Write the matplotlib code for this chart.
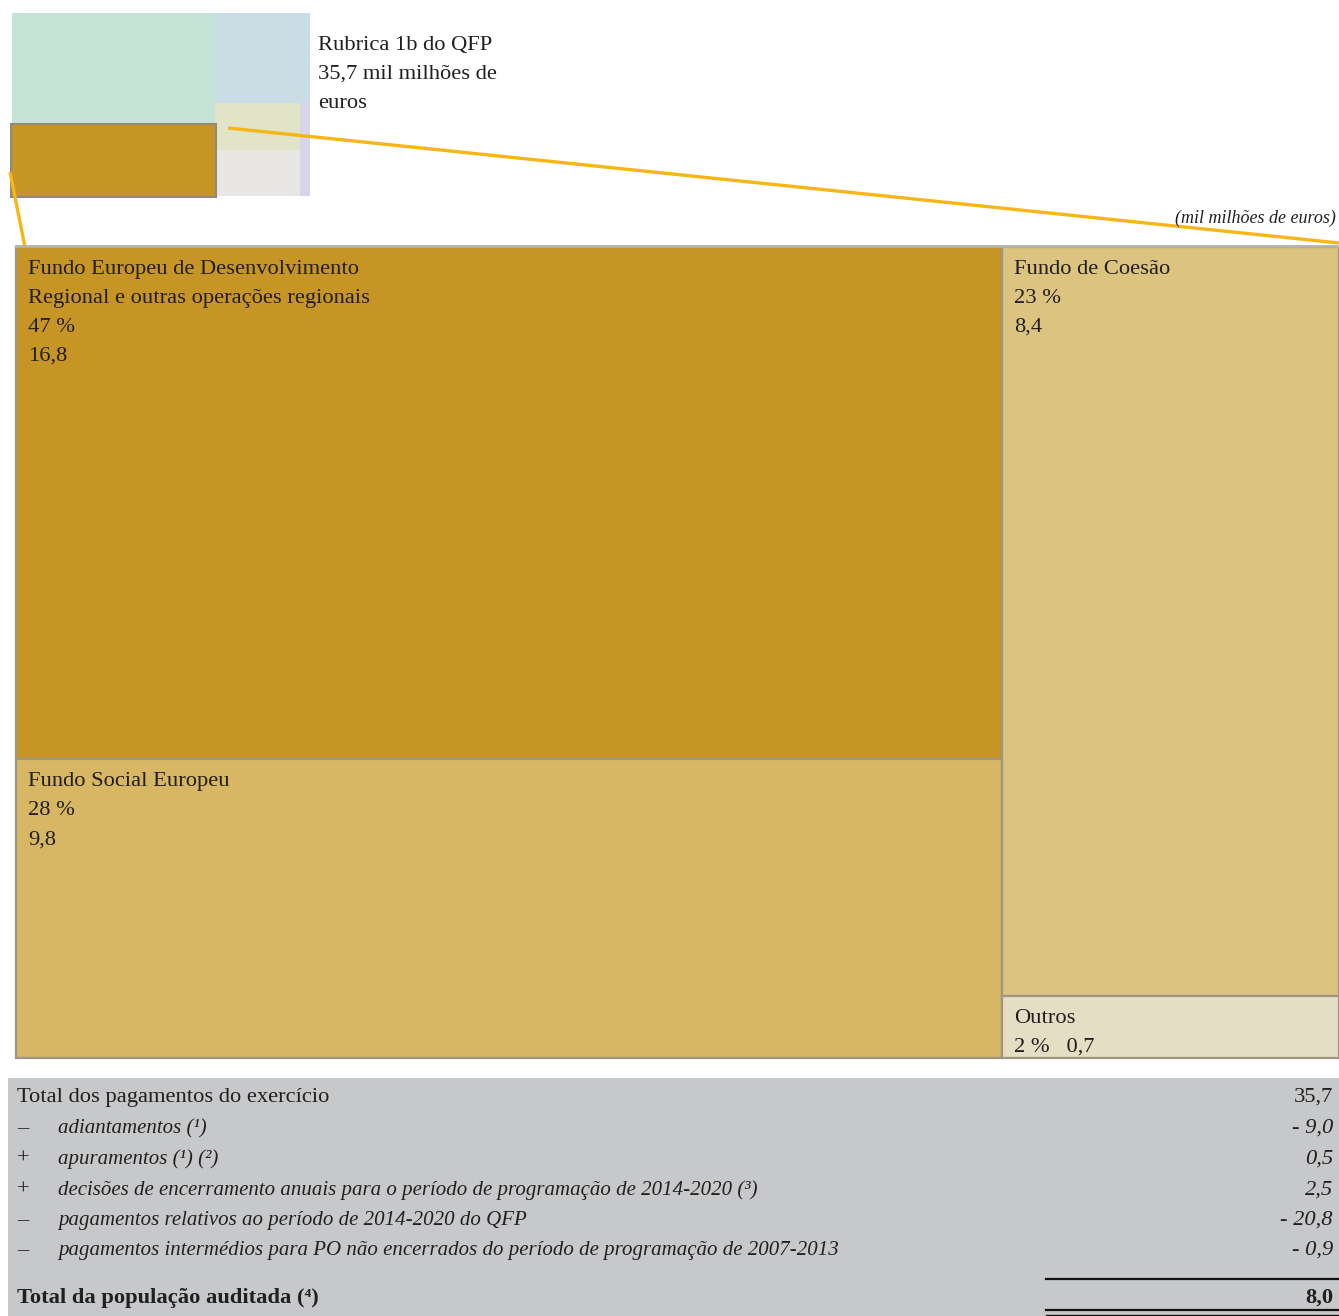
import matplotlib
matplotlib.use("Agg")
import matplotlib.pyplot as plt
from matplotlib.patches import Rectangle

# ---- data -------------------------------------------------------------
heading_title = "Rubrica 1b do QFP"
heading_total = 35.7  # mil milhões de euros

fund_names = [
    ["Fundo Europeu de Desenvolvimento", "Regional e outras operações regionais"],
    ["Fundo Social Europeu"],
    ["Fundo de Coesão"],
    ["Outros"],
]
fund_shares = [47, 28, 23, 2]          # %
fund_amounts = [16.8, 9.8, 8.4, 0.7]   # mil milhões de euros
fund_colors = ["#C79525", "#D7B763", "#DCC480", "#E5DEC5"]

recon_signs = ["", "–", "+", "+", "–", "–"]
recon_items = [
    "Total dos pagamentos do exercício",
    "adiantamentos (¹)",
    "apuramentos (¹) (²)",
    "decisões de encerramento anuais para o período de programação de 2014-2020 (³)",
    "pagamentos relativos ao período de 2014-2020 do QFP",
    "pagamentos intermédios para PO não encerrados do período de programação de 2007-2013",
]
recon_values = [35.7, -9.0, 0.5, 2.5, -20.8, -0.9]
audited_label = "Total da população auditada (⁴)"
audited_total = 8.0

# ---- helpers ------------------------------------------------------------
SERIF = ["Liberation Serif", "DejaVu Serif"]
FS = 16.2
FS_IT = 15.0
TXT = "#231F20"
LINE = 29  # pixel distance between text lines


def pt(v):
    return f"{v:.1f}".replace(".", ",")


def signed(v):
    return f"- {pt(-v)}" if v < 0 else pt(v)


def text_block(ax, x, y, lines, **kw):
    for n, line in enumerate(lines):
        ax.text(x, y + n * LINE, line, family=SERIF, fontsize=FS, color=TXT,
                ha="left", va="baseline", **kw)


fig = plt.figure(figsize=(13.39, 13.16), dpi=100)
ax = fig.add_axes([0, 0, 1, 1])
ax.set_xlim(0, 1339)
ax.set_ylim(1316, 0)
ax.axis("off")

# ---- overview thumbnail of the MFF headings ---------------------------------
thumb = [  # x, y, w, h, colour
    (12, 13, 203, 112, "#C5E4D6"),
    (215, 13, 95, 90, "#C9DDE4"),
    (215, 103, 85, 47, "#E1E4C6"),
    (215, 150, 85, 46, "#E8E7E5"),
    (300, 103, 10, 93, "#D8D4E9"),
]
for x, y, w, h, c in thumb:
    ax.add_patch(Rectangle((x, y), w, h, facecolor=c, edgecolor="none"))
ax.add_patch(Rectangle((11, 124), 205, 73, facecolor=fund_colors[0],
                       edgecolor="#8F8B78", linewidth=1.5))

text_block(ax, 318, 50, [heading_title,
                         f"{pt(heading_total)} mil milhões de", "euros"])
ax.text(1336, 223, "(mil milhões de euros)", family=SERIF, fontsize=13,
        style="italic", color=TXT, ha="right", va="baseline")

# connector lines from thumbnail to the detailed treemap
ax.plot([10, 25], [172, 247], color="#F6B616", lw=2.4, solid_capstyle="butt")
ax.plot([228, 1339], [128, 243], color="#F6B616", lw=2.4, solid_capstyle="butt")

# ---- treemap of heading 1b -------------------------------------------------------
X0, Y0, X1, Y1 = 16, 247, 1339, 1058
W, H = X1 - X0, Y1 - Y0
total = sum(fund_amounts)
columns = [[0, 1], [2, 3]]
ax.plot([X0, X1], [Y0 - 1, Y0 - 1], color="#B5B3AE", lw=2)
cx = X0
for col in columns:
    col_sum = sum(fund_amounts[i] for i in col)
    cw = W * col_sum / total
    cy = Y0
    for i in col:
        ch = H * fund_amounts[i] / col_sum
        ax.add_patch(Rectangle((cx, cy), cw, ch, facecolor=fund_colors[i],
                               edgecolor="#9D9685", linewidth=1.6))
        if i == 3:
            lines = fund_names[i] + [f"{fund_shares[i]} %   {pt(fund_amounts[i])}"]
        else:
            lines = fund_names[i] + [f"{fund_shares[i]} %", pt(fund_amounts[i])]
        text_block(ax, cx + 12, cy + 27, lines)
        cy += ch
    cx += cw

# ---- reconciliation table ---------------------------------------------------------
ax.add_patch(Rectangle((8, 1078), 1331, 238, facecolor="#C7C8CA", edgecolor="none"))
row_y = [1102, 1133, 1164, 1195, 1225, 1255]
for k, (s, item, v) in enumerate(zip(recon_signs, recon_items, recon_values)):
    y = row_y[k]
    if k == 0:
        ax.text(17, y, item, family=SERIF, fontsize=FS, color=TXT, va="baseline")
        ax.text(1333, y, signed(v), family=SERIF, fontsize=FS, color=TXT,
                va="baseline", ha="right")
    else:
        ax.text(17, y, s, family=SERIF, fontsize=FS, color=TXT, va="baseline")
        ax.text(58, y, item, family=SERIF, fontsize=FS_IT, style="italic",
                color=TXT, va="baseline")
        ax.text(1333, y, signed(v), family=SERIF, fontsize=FS, style="italic",
                color=TXT, va="baseline", ha="right")

ax.plot([1046, 1339], [1279, 1279], color="#111111", lw=1.6)
ax.text(17, 1303, audited_label, family=SERIF, fontsize=FS, weight="bold",
        color=TXT, va="baseline")
ax.text(1333, 1303, pt(audited_total), family=SERIF, fontsize=FS, weight="bold",
        color=TXT, va="baseline", ha="right")
ax.plot([1046, 1339], [1310, 1310], color="#111111", lw=1.6)
ax.plot([1046, 1339], [1314.5, 1314.5], color="#111111", lw=1.0)

fig.savefig("out.png", dpi=100)
